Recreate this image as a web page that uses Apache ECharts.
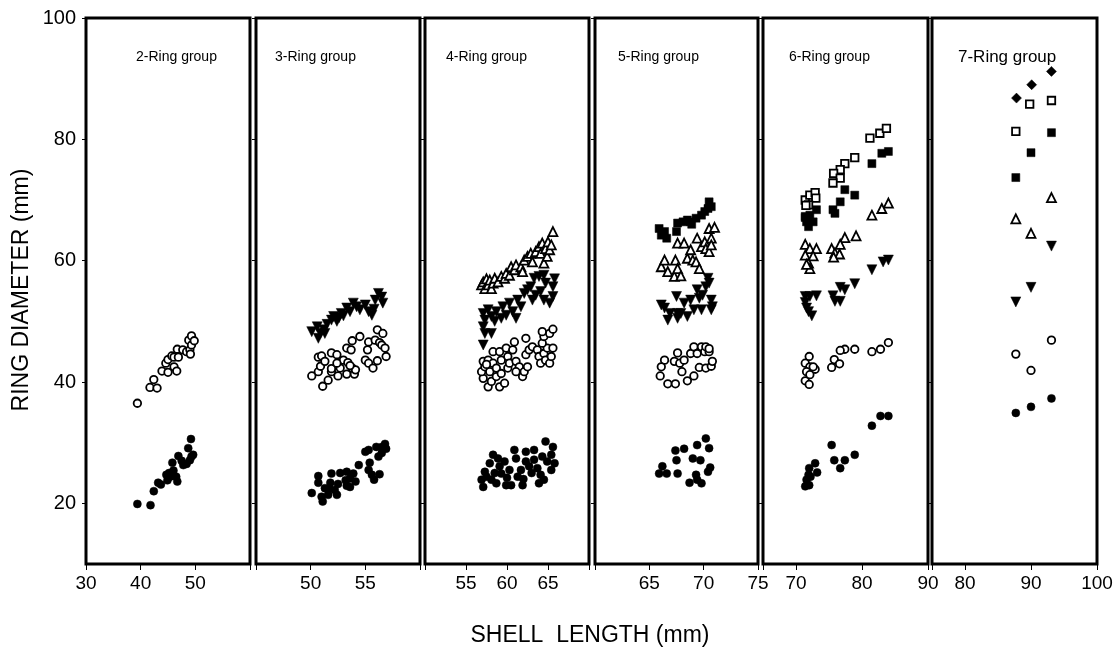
<!DOCTYPE html>
<html>
<head>
<meta charset="utf-8">
<script src="https://cdn.jsdelivr.net/npm/echarts@6/dist/echarts.min.js"></script>
<style>
html,body{margin:0;padding:0;background:#fff;}
#chart{width:1118px;height:662px;}
</style>
</head>
<body>
<div id="chart"></div>
<script>
// ---------- labels / ticks ----------
const panelTitles = ['2-Ring group','3-Ring group','4-Ring group','5-Ring group','6-Ring group','7-Ring group'];
const xRanges = [[30,60],[45,60],[50,70],[60,75],[65,90],[75,100]];
const xTickValues = [[30,40,50,60],[45,50,55,60],[50,55,60,65,70],[60,65,70,75],[65,70,80,90],[75,80,90,100]];
const xLabelValues = [[30,40,50],[50,55],[55,60,65],[65,70,75],[70,80,90],[80,90,100]];
const yRange = [10,100];
const yTickValues = [20,40,60,80,100];
const xAxisTitle = 'SHELL  LENGTH (mm)';
const yAxisTitle = 'RING DIAMETER (mm)';

// ---------- data: [shell length, ring diameter] ----------
// 2-Ring group
const g2_r1 = [[39.4,19.9],[41.8,19.7],[42.4,22.0],[43.2,23.4],[43.7,23.1],[44.7,24.7],[44.9,23.8],[45.2,25.0],[45.4,24.4],[45.8,26.7],[46.0,25.4],[46.5,24.4],[46.7,23.6],[46.9,27.8],[47.5,27.0],[47.8,26.3],[48.4,26.5],[48.7,29.1],[49.0,27.1],[49.2,30.6],[49.3,27.7],[49.6,28.0]];
const g2_r2 = [[39.4,36.5],[41.7,39.1],[42.4,40.4],[43.0,39.0],[43.9,41.8],[44.6,43.1],[45.0,41.6],[45.0,43.7],[45.7,44.3],[46.1,42.5],[46.1,44.1],[46.6,41.8],[46.7,45.4],[46.9,44.1],[47.7,45.3],[48.4,45.0],[48.8,46.9],[49.0,45.3],[49.1,44.6],[49.3,46.1],[49.3,47.6],[49.8,46.8]];
// 3-Ring group
const g3_r1 = [[50.1,21.7],[50.7,24.5],[50.7,23.4],[51.0,21.1],[51.1,20.3],[51.3,22.5],[51.6,21.4],[51.7,22.5],[51.8,23.4],[51.9,24.9],[52.2,22.2],[52.4,21.4],[52.5,23.2],[52.7,25.0],[53.2,23.8],[53.3,25.2],[53.3,22.9],[53.6,24.1],[53.6,22.7],[53.9,24.9],[54.1,23.6],[54.4,26.3],[55.0,28.5],[55.3,28.8],[55.4,26.7],[55.3,25.5],[55.6,24.7],[55.8,23.9],[56.3,24.8],[56.2,27.7],[56.5,28.3],[56.0,29.3],[56.5,29.3],[56.8,29.8],[56.9,29.0]];
const g3_r2 = [[50.1,41.0],[51.1,39.3],[51.6,40.3],[50.7,41.7],[50.9,42.6],[50.7,44.1],[51.0,44.3],[51.3,43.4],[51.9,44.8],[52.4,44.5],[51.9,41.7],[51.9,42.2],[52.5,41.0],[52.7,42.3],[53.0,43.6],[53.4,43.2],[53.3,45.6],[53.7,45.3],[53.8,46.8],[54.5,47.5],[53.3,41.3],[53.8,42.3],[54.0,41.3],[54.1,42.0],[53.6,42.7],[55.0,43.6],[55.3,43.1],[55.2,45.3],[55.3,46.6],[55.7,42.3],[56.1,43.5],[56.9,44.2],[55.9,46.9],[56.3,46.5],[56.5,46.1],[56.8,45.6],[56.1,48.6],[56.6,48.0],[52.4,43.1]];
const g3_r3 = [[50.1,48.3],[50.6,49.1],[50.9,48.0],[50.7,47.2],[51.3,48.0],[51.2,48.6],[51.5,49.5],[51.9,50.2],[52.1,50.8],[52.4,50.0],[52.6,50.6],[52.8,51.3],[53.0,50.9],[53.3,52.2],[53.6,51.6],[53.9,53.0],[54.2,52.4],[54.5,51.9],[55.0,52.7],[55.3,51.6],[55.6,51.0],[55.8,52.0],[55.9,53.5],[56.2,54.6],[56.5,54.0],[56.6,53.0]];
// 4-Ring group
const g4_r1 = [[57.1,22.7],[56.9,23.9],[57.3,25.2],[57.9,26.6],[58.3,28.0],[58.1,23.9],[58.7,23.3],[59.1,26.1],[59.3,24.9],[59.7,26.9],[59.9,23.0],[60.3,25.5],[60.5,23.0],[60.9,28.8],[61.1,27.4],[61.3,24.4],[61.9,23.0],[61.7,25.5],[62.3,28.5],[62.3,26.9],[62.7,26.1],[63.3,28.8],[63.3,27.2],[63.7,25.8],[63.9,23.3],[64.1,24.7],[64.3,27.7],[64.7,30.2],[64.9,26.9],[65.4,28.0],[65.6,29.3],[65.8,26.6],[64.5,23.9],[65.4,25.5],[58.9,27.4],[57.5,24.4],[58.5,25.0],[60.0,24.2],[62.0,24.0],[63.0,25.0]];
const g4_r2 = [[57.7,39.2],[59.1,39.2],[59.7,39.8],[58.1,40.1],[57.1,40.6],[56.9,41.7],[57.3,42.5],[57.1,43.4],[57.7,43.6],[58.3,43.1],[57.9,41.7],[58.7,42.3],[58.7,40.9],[59.3,41.4],[59.3,43.6],[58.3,45.0],[59.1,45.0],[59.9,45.6],[60.1,44.2],[60.7,45.3],[60.9,46.6],[60.1,42.3],[60.3,43.1],[61.1,43.4],[61.5,42.5],[61.1,41.7],[61.9,40.9],[62.1,41.7],[62.5,42.5],[62.3,47.2],[62.3,44.5],[62.7,45.3],[63.1,45.8],[63.7,45.3],[63.9,44.2],[64.1,43.1],[64.5,44.7],[64.7,43.6],[65.2,43.1],[64.9,45.6],[65.4,44.2],[65.6,45.6],[64.3,46.4],[64.5,47.5],[65.2,48.0],[65.6,48.7],[64.3,48.3],[57.5,42.9]];
const g4_r3 = [[57.1,46.1],[57.3,48.0],[58.1,48.0],[57.1,49.1],[57.3,50.2],[57.1,51.3],[57.7,51.9],[58.1,50.8],[58.5,50.0],[58.7,51.6],[59.3,50.5],[59.5,52.4],[59.9,51.0],[60.3,53.0],[60.7,51.6],[61.1,50.5],[61.3,53.5],[61.7,52.4],[62.1,54.6],[62.5,55.2],[62.9,55.7],[63.3,57.1],[63.9,57.4],[64.5,57.6],[64.7,56.3],[64.1,54.9],[64.5,53.5],[65.2,53.0],[65.6,54.1],[65.6,55.7],[65.8,57.0],[63.1,53.5],[63.5,54.3]];
const g4_r4 = [[56.9,56.0],[57.1,56.5],[57.3,55.4],[57.5,57.0],[57.7,56.0],[57.9,56.8],[58.1,55.4],[58.3,56.3],[58.5,57.1],[58.9,56.5],[59.3,57.4],[59.7,57.1],[59.9,57.9],[60.3,57.6],[60.5,59.0],[60.9,58.5],[61.1,59.3],[61.7,59.0],[61.9,58.2],[62.1,60.1],[62.5,60.7],[62.9,61.2],[63.1,59.8],[63.5,61.5],[63.9,62.3],[64.1,61.2],[64.3,62.9],[64.5,59.6],[64.7,62.0],[64.9,60.7],[65.0,63.1],[65.2,61.8],[65.4,62.6],[65.6,64.8]];
// 5-Ring group
const g5_r1 = [[67.4,28.7],[68.2,29.0],[69.4,29.6],[70.2,30.7],[70.5,29.1],[67.5,27.1],[69.0,27.4],[69.7,27.1],[66.2,26.1],[65.9,24.9],[66.6,24.9],[67.6,24.9],[68.7,23.4],[69.3,24.7],[69.4,23.9],[69.8,23.3],[70.4,25.2],[70.6,25.9]];
const g5_r2 = [[66.4,43.6],[66.1,42.5],[66.0,41.0],[66.7,39.7],[67.4,39.7],[67.6,44.8],[67.3,43.4],[67.8,43.1],[68.2,43.6],[68.0,41.7],[68.5,40.2],[69.1,41.0],[68.8,44.7],[69.1,45.8],[69.4,44.7],[69.8,45.8],[70.1,45.0],[70.2,45.8],[70.5,45.0],[70.5,45.5],[69.6,42.4],[70.2,42.3],[70.7,42.6],[70.8,43.4]];
const g5_r3 = [[66.1,52.7],[66.4,52.2],[66.7,50.2],[66.9,51.3],[67.5,54.1],[67.6,51.3],[67.6,50.5],[67.9,51.3],[68.2,53.0],[68.5,50.8],[68.8,53.5],[69.1,51.9],[69.4,55.2],[69.6,53.8],[69.8,51.9],[69.9,54.3],[70.2,55.7],[70.4,57.1],[70.5,56.3],[70.7,53.5],[70.8,52.4],[70.7,51.9]];
const g5_r4 = [[66.1,59.0],[66.4,60.1],[66.7,58.2],[67.3,57.4],[67.4,60.1],[67.6,58.7],[67.9,57.5],[67.6,62.9],[68.2,62.9],[68.5,60.4],[68.8,61.8],[69.0,60.1],[69.3,59.8],[69.4,63.7],[69.6,58.7],[69.8,62.3],[70.1,63.1],[70.2,62.0],[70.5,65.3],[70.7,63.7],[70.5,61.5],[70.7,62.6],[71.0,65.5]];
const g5_r5 = [[65.9,65.3],[66.1,64.2],[66.6,63.7],[66.4,64.8],[67.5,64.8],[67.6,66.2],[68.1,66.4],[68.5,66.7],[68.8,66.4],[68.9,66.0],[69.3,67.0],[69.8,67.5],[70.1,68.1],[70.4,68.6],[70.5,69.7],[70.7,68.9]];
// 6-Ring group
const g6_r1 = [[84.0,34.4],[82.8,34.4],[81.5,32.8],[78.9,28.0],[77.4,27.1],[75.8,27.1],[76.7,25.8],[75.4,29.6],[72.9,26.6],[73.2,25.1],[72.0,25.8],[71.9,24.7],[71.6,23.9],[71.4,22.8],[72.0,23.0],[72.2,24.4]];
const g6_r2 = [[84.0,46.5],[82.8,45.4],[81.5,45.0],[78.9,45.4],[77.4,45.4],[76.7,45.2],[75.8,43.7],[76.6,43.0],[75.4,42.4],[72.0,44.2],[71.4,43.1],[72.1,42.5],[72.9,42.1],[71.6,41.7],[72.1,41.2],[71.4,40.2],[72.0,39.6],[72.6,42.5]];
const g6_r3 = [[84.0,60.1],[83.2,59.8],[81.5,58.5],[78.9,56.2],[77.4,55.2],[76.7,55.6],[75.6,54.2],[75.9,53.3],[76.7,53.3],[71.4,54.1],[72.1,54.1],[73.1,54.2],[71.4,53.1],[71.6,52.2],[71.9,51.6],[72.4,50.9]];
const g6_r4 = [[84.0,69.5],[83.0,68.6],[81.5,67.5],[79.1,64.1],[77.4,63.8],[76.7,62.7],[75.4,62.0],[75.9,61.3],[76.6,61.1],[75.7,60.6],[71.4,62.7],[72.1,62.0],[73.1,62.0],[71.4,60.9],[72.6,60.8],[71.9,59.6],[72.1,58.7],[71.6,59.4]];
const g6_r5 = [[84.0,78.0],[83.0,77.7],[81.5,76.0],[78.9,70.8],[77.4,71.7],[76.7,69.7],[75.6,68.4],[75.9,67.8],[73.1,68.4],[71.4,67.3],[72.1,67.5],[71.6,66.4],[72.6,66.4],[71.9,65.6],[71.4,67.1]];
const g6_r6 = [[81.2,80.2],[82.7,81.0],[83.7,81.8],[78.9,77.0],[77.4,76.0],[76.7,75.0],[75.7,74.4],[76.7,73.6],[75.6,72.8],[71.4,70.0],[72.1,70.8],[72.9,71.2],[73.0,70.3],[71.9,69.2],[71.5,69.1]];
// 7-Ring group
const g7_r1 = [[87.7,34.9],[90.0,35.9],[93.1,37.3]];
const g7_r2 = [[87.7,44.6],[90.0,41.9],[93.1,46.9]];
const g7_r3 = [[87.7,53.2],[90.0,55.6],[93.1,62.4]];
const g7_r4 = [[87.7,66.9],[90.0,64.5],[93.1,70.4]];
const g7_r5 = [[87.7,73.7],[90.0,77.8],[93.1,81.1]];
const g7_r6 = [[87.7,81.3],[89.8,85.8],[93.1,86.4]];
const g7_r7 = [[87.8,86.8],[90.1,89.0],[93.1,91.2]];

const panelData = [
  [g2_r1, g2_r2],
  [g3_r1, g3_r2, g3_r3],
  [g4_r1, g4_r2, g4_r3, g4_r4],
  [g5_r1, g5_r2, g5_r3, g5_r4, g5_r5],
  [g6_r1, g6_r2, g6_r3, g6_r4, g6_r5, g6_r6],
  [g7_r1, g7_r2, g7_r3, g7_r4, g7_r5, g7_r6, g7_r7]
];

// ---------- styling ----------
const FONT = 'Liberation Sans, Arial, sans-serif';
const gridLefts = [86, 256, 425, 595, 763, 932];
const gridWidths = [164, 164, 164, 163, 165, 165];
const gridTop = 18, gridHeight = 546;
const titleX = [136, 275, 446, 618, 789, 958];

const ringStyles = [
  {symbol:'circle', size:8, rotate:0, fill:'#000'},
  {symbol:'circle', size:7.5, rotate:0, fill:'#fff'},
  {symbol:'triangle', size:10, rotate:180, fill:'#000'},
  {symbol:'triangle', size:9, rotate:0, fill:'#fff'},
  {symbol:'rect', size:8, rotate:0, fill:'#000'},
  {symbol:'rect', size:7.5, rotate:0, fill:'#fff'},
  {symbol:'diamond', size:10, rotate:0, fill:'#000'}
];

const grids = [], xAxes = [], yAxes = [], series = [], graphics = [];
for (let p = 0; p < 6; p++) {
  grids.push({left: gridLefts[p], top: gridTop, width: gridWidths[p], height: gridHeight,
    show: true, borderColor: '#000', borderWidth: 3, backgroundColor: 'transparent'});
  xAxes.push({type:'value', gridIndex:p, min:xRanges[p][0], max:xRanges[p][1],
    axisLine:{show:false}, splitLine:{show:false},
    axisTick:{show:true, inside:false, length:6, lineStyle:{color:'#000', width:1}, customValues:xTickValues[p]},
    axisLabel:{show:true, margin:10, color:'#000', fontFamily:FONT, fontSize:19, customValues:xLabelValues[p]}
  });
  yAxes.push({type:'value', gridIndex:p, min:yRange[0], max:yRange[1],
    axisLine:{show:false}, splitLine:{show:false},
    axisTick:{show:true, inside:false, length:4, lineStyle:{color:'#000', width:1}, customValues:yTickValues},
    axisLabel:{show:p === 0, margin:10, color:'#000', fontFamily:FONT, fontSize:20, customValues:yTickValues}
  });
  panelData[p].forEach((arr, r) => {
    const st = ringStyles[r];
    series.push({type:'scatter', xAxisIndex:p, yAxisIndex:p, data:arr,
      symbol:st.symbol, symbolSize:st.size, symbolRotate:st.rotate,
      itemStyle:{color:st.fill, borderColor:'#000', borderWidth: st.fill === '#fff' ? 1.8 : 0.5, opacity:1},
      emphasis:{disabled:true}, animation:false, z: 3});
  });
  graphics.push({type:'text', x: titleX[p], y: 57,
    style:{text: panelTitles[p], fill:'#000', font: (p === 5 ? '17px ' : '14px ') + FONT, textAlign:'left', textVerticalAlign:'middle'}});
}
graphics.push({type:'text', x: 590, y: 636, style:{text: xAxisTitle, fill:'#000', font:'23px ' + FONT, textAlign:'center', textVerticalAlign:'middle'}});
graphics.push({type:'text', x: 22, y: 290, rotation: Math.PI/2, style:{text: yAxisTitle, fill:'#000', font:'23px ' + FONT, textAlign:'center', textVerticalAlign:'middle'}});

const chart = echarts.init(document.getElementById('chart'), null, {renderer:'canvas'});
chart.setOption({
  backgroundColor:'#fff',
  animation:false,
  grid: grids,
  xAxis: xAxes,
  yAxis: yAxes,
  series: series,
  graphic: graphics
});
</script>
</body>
</html>
